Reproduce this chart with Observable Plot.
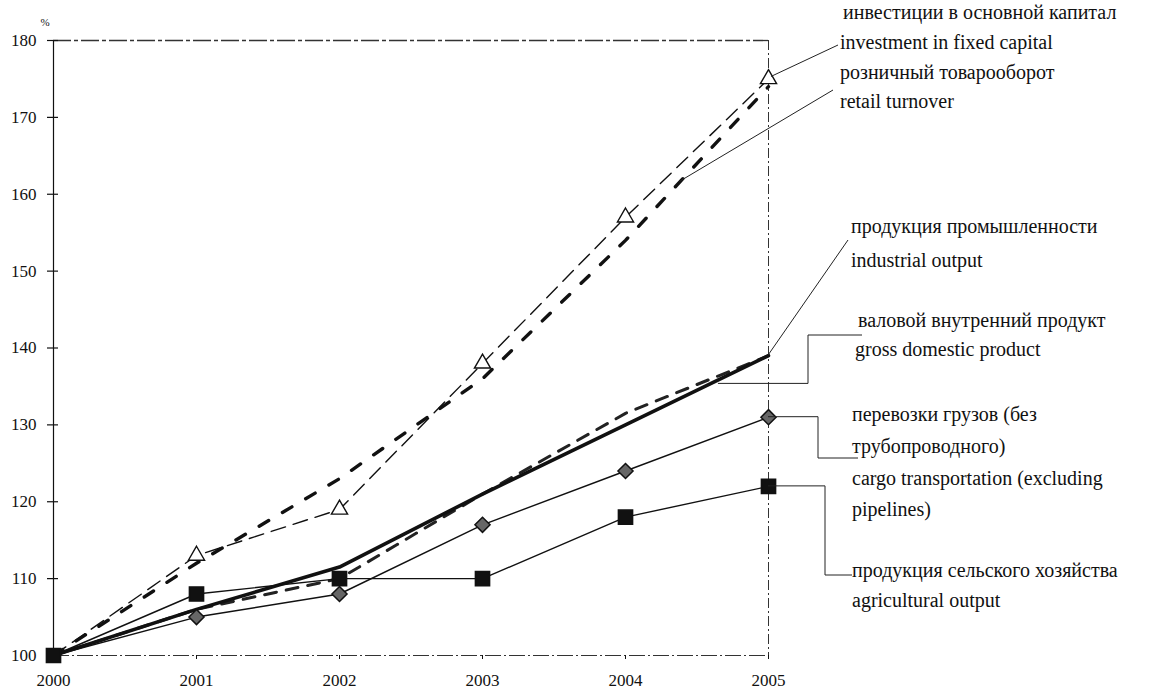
<!DOCTYPE html>
<html><head><meta charset="utf-8">
<script src="https://cdn.jsdelivr.net/npm/d3@7"></script>
<script src="https://cdn.jsdelivr.net/npm/@observablehq/plot@0.6"></script>
<style>body{margin:0;background:#fff} svg{display:block}</style>
</head><body><div id="chart"></div>
<script>
// ---- data ----
const years = [2000, 2001, 2002, 2003, 2004, 2005];
const investment = [100, 113, 119, 138, 157, 175];
const retail = [100, 112, 123, 136, 154, 174];
const industrial = [100, 106, 110, 121, 131.5, 139];
const gdp = [100, 106, 111.5, 121, 130, 139];
const cargo = [100, 105, 108, 117, 124, 131];
const agri = [100, 108, 110, 110, 118, 122];
const yTicks = [100, 110, 120, 130, 140, 150, 160, 170, 180];
const unitLabel = ["%"];
const labelLines = [
  "инвестиции в основной капитал", "investment in fixed capital",
  "розничный товарооборот", "retail turnover",
  "продукция промышленности", "industrial output",
  "валовой внутренний продукт", "gross domestic product",
  "перевозки грузов (без", "трубопроводного)", "cargo transportation (excluding", "pipelines)",
  "продукция сельского хозяйства", "agricultural output"
];

// ---- layout / style ----
const FONT = "'Liberation Serif', 'Times New Roman', serif";
const rows = (vals) => years.map((year, i) => ({year, value: vals[i]}));
const textPos = [[843,14],[840,44],[840,74],[840,103],[851,228],[851,262],[858,322],[855,351],[852,416],[852,448],[852,480],[852,511],[852,572],[852,602]];

const plot = Plot.plot({
  width: 1149, height: 692,
  marginLeft: 53, marginRight: 381, marginTop: 40, marginBottom: 37,
  style: {fontFamily: FONT, background: "white", color: "#111"},
  x: {domain: [2000, 2005]},
  y: {domain: [100, 180]},
  marks: [
    Plot.ruleY([180], {stroke: "#333", strokeWidth: 1.3, strokeDasharray: "18,3,4,3"}),
    Plot.ruleX([2005], {stroke: "#333", strokeWidth: 1, strokeDasharray: "10,3,2,3"}),
    Plot.ruleY([100], {stroke: "#333", strokeWidth: 1, strokeDasharray: "16,3,2,3"}),
    Plot.ruleX([2000], {stroke: "#111", strokeWidth: 1.2}),
    Plot.axisY({ticks: yTicks, tickSize: 11, dx: 5, tickFormat: () => "", label: null, strokeWidth: 1.2}),
    Plot.axisY({ticks: yTicks, tickSize: 0, tickPadding: 17, fontSize: 17, label: null, fill: "#111"}),
    Plot.axisX({ticks: years, tickSize: 4, tickPadding: 14, fontSize: 17, tickFormat: d => String(d), label: null, fill: "#111"}),
    Plot.text(unitLabel, {text: d => d, frameAnchor: "top-left", dx: -13, dy: -22, fontSize: 11, fill: "#111"}),
    Plot.line(rows(investment), {x: "year", y: "value", stroke: "#111", strokeWidth: 1.4, strokeDasharray: "15,8"}),
    Plot.line(rows(retail), {x: "year", y: "value", stroke: "#111", strokeWidth: 3.4, strokeDasharray: "11,16"}),
    Plot.line(rows(industrial), {x: "year", y: "value", stroke: "#222", strokeWidth: 3, strokeDasharray: "12,10"}),
    Plot.line(rows(gdp), {x: "year", y: "value", stroke: "#111", strokeWidth: 3.6}),
    Plot.line(rows(cargo), {x: "year", y: "value", stroke: "#111", strokeWidth: 1.4}),
    Plot.line(rows(agri), {x: "year", y: "value", stroke: "#111", strokeWidth: 1.4}),
    Plot.dot(rows(investment).slice(1), {x: "year", y: "value", symbol: "triangle", r: 6, fill: "white", stroke: "#111", strokeWidth: 1.4}),
    Plot.dot(rows(cargo).slice(1), {x: "year", y: "value", symbol: "diamond2", r: 6.8, fill: "#666", stroke: "#111", strokeWidth: 1.5}),
    Plot.dot(rows(agri), {x: "year", y: "value", symbol: "square", r: 8, fill: "#111", stroke: "#111"})
  ]
});
document.getElementById("chart").appendChild(plot);

// ---- annotations with leader lines, anchored on the data through Plot's scales ----
const sx = plot.scale("x"), sy = plot.scale("y");
function at(vals, t) {
  const i = Math.min(Math.floor(t - 2000), 4), f = t - 2000 - i;
  return [sx.apply(t), sy.apply(vals[i] + (vals[i + 1] - vals[i]) * f)];
}
const leaders = [
  {vals: investment, t: 2005, off: [3, -2], pts: a => [[838, 45]]},
  {vals: retail, t: 2004.38, off: [0, 0], pts: a => [[833, 90]]},
  {vals: industrial, t: 2005, off: [0, 0], pts: a => [[848, 240]]},
  {vals: gdp, t: 2004.65, off: [0, 4], pts: a => [[808, a[1]], [808, 335], [862, 335]]},
  {vals: cargo, t: 2005, off: [0, 0], pts: a => [[818, a[1]], [818, 458], [858, 458]]},
  {vals: agri, t: 2005, off: [0, 0], pts: a => [[825, a[1]], [825, 575], [852, 575]]}
];
const svg = d3.select(plot);
const g = svg.append("g").attr("fill", "none").attr("stroke", "#222").attr("stroke-width", 1);
leaders.forEach(L => {
  const p = at(L.vals, L.t);
  const a = [p[0] + L.off[0], p[1] + L.off[1]];
  g.append("path").attr("d", d3.line()([a, ...L.pts(a)]));
});
svg.append("g").attr("font-family", FONT).attr("font-size", 20).attr("fill", "#111")
  .attr("text-anchor", "start")
  .selectAll("text").data(labelLines).join("text")
  .attr("x", (d, i) => textPos[i][0]).attr("y", (d, i) => textPos[i][1])
  .attr("dominant-baseline", "middle").text(d => d);
</script></body></html>
